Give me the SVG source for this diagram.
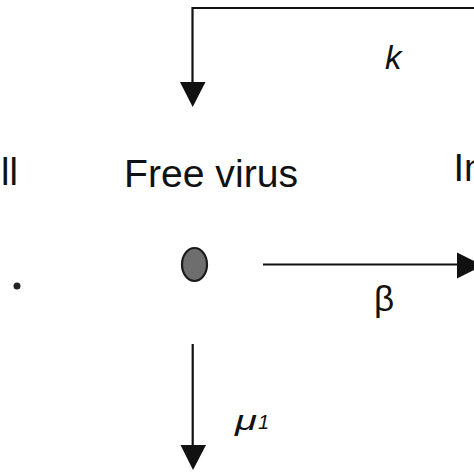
<svg xmlns="http://www.w3.org/2000/svg" width="474" height="474" viewBox="0 0 474 474">
<style>
  .t { font-family: "Liberation Sans", Arial, sans-serif; fill: #111; }
  .it { font-style: italic; }
  .ln { stroke: #111; stroke-width: 2.2; fill: none; }
  .hd { fill: #111; stroke: none; }
</style>
<rect width="474" height="474" fill="#fff"/>
<g id="cell">
  <text class="t" x="1" y="185" font-size="38">ll</text>
  <circle cx="17" cy="286" r="3.5" fill="#222"/>
</g>
<g id="free-virus">
  <text class="t" x="124" y="187" font-size="38" textLength="174" lengthAdjust="spacingAndGlyphs">Free virus</text>
  <ellipse cx="194.5" cy="264.5" rx="12.5" ry="16.5" fill="#6e6e6e" stroke="#1a1a1a" stroke-width="2.2"/>
</g>
<g id="infected">
  <text class="t" x="453.5" y="181" font-size="38">In</text>
</g>
<g id="connectors">
  <polyline class="ln" points="474,8 192.5,8 192.5,84"/>
  <polygon class="hd" points="180,82 205.5,82 192.7,107"/>
  <line class="ln" x1="263" y1="264.5" x2="459" y2="264.5"/>
  <polygon class="hd" points="457,252.5 457,278.5 483,265.5"/>
  <line class="ln" x1="192.7" y1="344" x2="192.7" y2="447"/>
  <polygon class="hd" points="180.5,445 206,445 193,470"/>
</g>
<g id="labels">
  <text class="t it" x="385" y="69" font-size="33">k</text>
  <text class="t" x="374" y="311" font-size="35">β</text>
  <text class="t it" x="235" y="430" font-size="27" textLength="22" lengthAdjust="spacingAndGlyphs">μ</text>
  <text class="t it" x="258" y="429" font-size="20">1</text>
</g>
</svg>
